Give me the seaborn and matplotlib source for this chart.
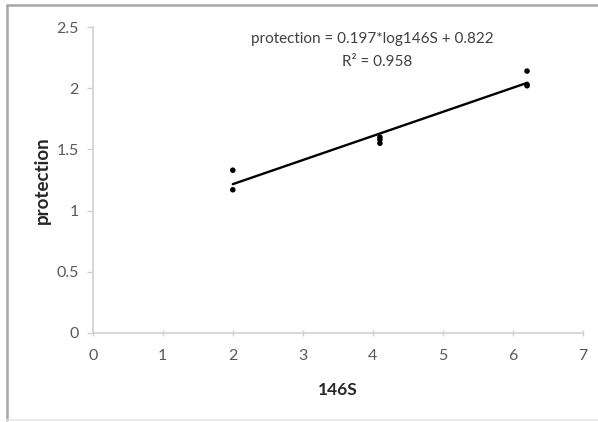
import numpy as np
import pandas as pd
import matplotlib
matplotlib.use("Agg")
import matplotlib.pyplot as plt
import seaborn as sns
from matplotlib.lines import Line2D

# data
x_vals = [2.0, 2.0, 4.1, 4.1, 4.1, 6.2, 6.2, 6.2]
y_vals = [1.33, 1.17, 1.60, 1.58, 1.55, 2.14, 2.03, 2.02]
slope = 0.197
intercept = 0.822
r2 = 0.958
x_ticks = [0, 1, 2, 3, 4, 5, 6, 7]
y_ticks = [0, 0.5, 1, 1.5, 2, 2.5]
y_tick_labels = ["0", "0.5", "1", "1.5", "2", "2.5"]

sns.set_theme(style="white")
plt.rcParams['font.family'] = ['Lato', 'DejaVu Sans']

df = pd.DataFrame({"x": x_vals, "y": y_vals})
fit_x = np.array([min(x_vals), max(x_vals)])
fit_df = pd.DataFrame({"x": fit_x, "y": slope * fit_x + intercept})

fig = plt.figure(figsize=(5.98, 4.22), dpi=100)
ax = fig.add_axes([0.155, 0.211, 0.82, 0.725])

sns.lineplot(data=fit_df, x="x", y="y", ax=ax, color="black", linewidth=1.7)
sns.scatterplot(data=df, x="x", y="y", ax=ax, color="black", s=16, edgecolor="none", zorder=3)

ax.set_xlim(0, 7)
ax.set_ylim(0, 2.5)
ax.set_xticks(x_ticks)
ax.set_xticklabels([str(t) for t in x_ticks])
ax.set_yticks(y_ticks)
ax.set_yticklabels(y_tick_labels)

for s in ["top", "right"]:
    ax.spines[s].set_visible(False)
for s in ["left", "bottom"]:
    ax.spines[s].set_color("#d0d0d0")
    ax.spines[s].set_linewidth(1.2)

ax.tick_params(axis="x", direction="inout", length=5, width=1, color="#d0d0d0",
               labelsize=11.5, labelcolor="#595959", pad=9)
ax.tick_params(axis="y", direction="out", length=4, width=1, color="#d0d0d0",
               labelsize=11.5, labelcolor="#595959", pad=6)
ax.tick_params(left=True, bottom=True)

ax.set_xlabel("146S", fontsize=12.5, fontweight="bold", color="#262626", labelpad=14)
ax.set_ylabel("protection", fontsize=13.5, fontweight="bold", color="#262626", labelpad=4)

ax.text(0.571, 0.962, f"protection = {slope}*log146S + {intercept}", transform=ax.transAxes,
        ha="center", va="center", fontsize=11, color="#404040")
ax.text(0.58, 0.885, f"R² = {r2}", transform=ax.transAxes,
        ha="center", va="center", fontsize=11, color="#404040")

# outer chart frame
px = lambda v: v / 598
py = lambda v: 1 - v / 422
fig.add_artist(Line2D([px(7), px(7)], [py(420), py(5)], transform=fig.transFigure,
                      color="#a6a6a6", linewidth=1.8))
fig.add_artist(Line2D([px(7), 1.0], [py(5), py(5)], transform=fig.transFigure,
                      color="#a6a6a6", linewidth=1.8))
fig.add_artist(Line2D([px(7), 1.0], [py(420), py(420)], transform=fig.transFigure,
                      color="#e6e6e6", linewidth=1.2))

fig.savefig("out.png", dpi=100)
